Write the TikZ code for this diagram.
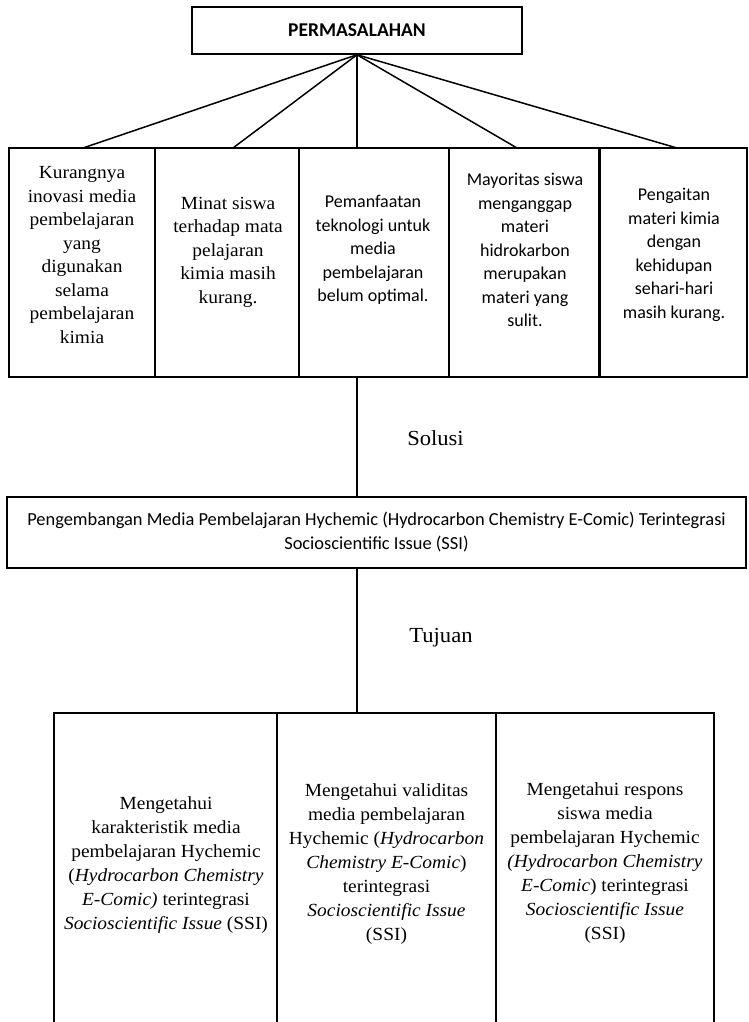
\documentclass[tikz,border=0pt]{standalone}
\usepackage{fontspec}
\setmainfont{Liberation Serif}[FakeStretch=1.05]
\newfontfamily\calfont{Carlito}
\begin{document}
\begin{tikzpicture}[x=1pt,y=-1pt,
  box/.style={draw, line width=1.5pt, inner sep=0pt},
  conn/.style={line width=1.5pt},
  trunk/.style={line width=2.6pt},
  serif/.style={font=\fontsize{18.5}{23.5}\selectfont, align=center, inner sep=0pt},
  serifb/.style={font=\fontsize{18.5}{24}\selectfont, align=center, inner sep=0pt},
  sans/.style={font=\calfont\fontsize{18}{23.5}\selectfont, align=center, inner sep=0pt},
  lbl/.style={font=\fontsize{21.5}{26}\selectfont, inner sep=0pt, anchor=base}]
\useasboundingbox (0,0) rectangle (748,1022);
\clip (0,0) rectangle (748,1022);
\fill[white] (0,0) rectangle (748,1022);

% top problem box
\node[box, minimum width=330pt, minimum height=47pt,
      font=\calfont\bfseries\fontsize{19.5}{23}\selectfont] (perm) at (357,30.5) {PERMASALAHAN};

% row of problems
\node[box, minimum width=146pt, minimum height=229pt] (b1) at (82,262.5) {};
\node[box, minimum width=144pt, minimum height=229pt] (b2) at (227,262.5) {};
\node[box, minimum width=150pt, minimum height=229pt] (b3) at (374,262.5) {};
\node[box, minimum width=150pt, minimum height=229pt] (b4) at (524,262.5) {};
\node[box, minimum width=147pt, minimum height=229pt] (b5) at (673.5,262.5) {};

\node[serif] (t1) at (82,255) {Kurangnya\\inovasi media\\pembelajaran\\yang\\digunakan\\selama\\pembelajaran\\kimia};
\node[serif] (t2) at (228,252) {Minat siswa\\terhadap mata\\pelajaran\\kimia masih\\kurang.};
\node[sans] (t3) at (373,250) {Pemanfaatan\\teknologi untuk\\media\\pembelajaran\\belum optimal.};
\node[sans] (t4) at (525,250) {Mayoritas siswa\\menganggap\\materi\\hidrokarbon\\merupakan\\materi yang\\sulit.};
\node[sans] (t5) at (674,255) {Pengaitan\\materi kimia\\dengan\\kehidupan\\sehari-hari\\masih kurang.};

% connectors from the problem box
\coordinate (e1) at (83,148);
\coordinate (e2) at (233,148);
\coordinate (e3) at (357,148);
\coordinate (e4) at (517,148);
\coordinate (e5) at (677,148);
\draw[conn] (perm.south) -- (e1);
\draw[conn] (perm.south) -- (e2);
\draw[trunk] (perm.south) -- (e3);
\draw[conn] (perm.south) -- (e4);
\draw[conn] (perm.south) -- (e5);

% solution
\node[box, sans, font=\calfont\fontsize{18.4}{24}\selectfont, minimum width=739pt, minimum height=71pt] (sol) at (376.5,532.5)
  {Pengembangan Media Pembelajaran Hychemic (Hydrocarbon Chemistry E-Comic) Terintegrasi\\Socioscientific Issue (SSI)};
\coordinate (s1) at (b3.south -| perm.south);
\draw[trunk] (s1) -- (s1 |- sol.north);
\node[lbl] (solusi) at (435.5,445) {Solusi};

% goals
\node[box, minimum width=223pt, minimum height=327pt] (g1) at (165.5,876.5) {};
\node[box, minimum width=219pt, minimum height=327pt] (g2) at (386.5,876.5) {};
\node[box, minimum width=218pt, minimum height=327pt] (g3) at (605,876.5) {};
\draw[trunk] (sol.south -| perm.south) -- (perm.south |- g2.north);
\node[lbl] (tujuan) at (441,642) {Tujuan};

\node[serifb] (u1) at (166,865) {Mengetahui\\karakteristik media\\pembelajaran Hychemic\\(\textit{Hydrocarbon Chemistry}\\\textit{E-Comic)} terintegrasi\\\textit{Socioscientific Issue} (SSI)};
\node[serifb] (u2) at (386.5,864) {Mengetahui validitas\\media pembelajaran\\Hychemic (\textit{Hydrocarbon}\\\textit{Chemistry E-Comic})\\terintegrasi\\\textit{Socioscientific Issue}\\(SSI)};
\node[serifb] (u3) at (605,863) {Mengetahui respons\\siswa media\\pembelajaran Hychemic\\\textit{(Hydrocarbon Chemistry}\\\textit{E-Comic}) terintegrasi\\\textit{Socioscientific Issue}\\(SSI)};
\end{tikzpicture}
\end{document}
